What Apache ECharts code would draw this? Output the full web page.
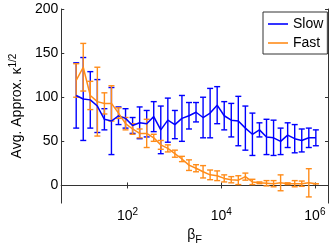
<!DOCTYPE html>
<html><head><meta charset="utf-8">
<script src="https://cdn.jsdelivr.net/npm/echarts@6/dist/echarts.min.js"></script>
<style>html,body{margin:0;padding:0;background:#fff}#c{width:332px;height:250px}</style>
</head><body><div id="c"></div>
<script>
const betaF = [8, 11.31, 16, 22.63, 32, 45.25, 64, 90.51, 128, 181.02, 256, 362.04, 512, 724.08, 1024, 1448.15, 2048, 2896.31, 4096, 5792.62, 8192, 11585.24, 16384, 23170.48, 32768, 46340.95, 65536, 92681.9, 131072, 185363.8, 262144, 370727.6, 524288, 741455.2, 1048576];
const slowMean = [102, 98, 97, 90, 75, 73, 79, 76, 68, 71, 70, 78, 63, 74, 69, 76, 79, 83, 77, 82, 91, 79, 74, 73, 65, 58, 63, 55, 54, 50, 57, 53, 51, 54, 54];
const slowErr  = [37, 47, 32, 30, 12, 38, 10, 11, 9, 18, 15, 17, 27, 25, 16, 26, 15, 11, 23, 28, 21, 16, 19, 28, 25, 24, 8, 20, 20, 15, 14, 16, 13, 11, 9];
const fastMean = [119, 134, 102, 95, 93, 93, 82, 70, 64, 59, 59, 54, 46, 42, 36, 30, 23, 19.5, 15.5, 12, 11, 8, 6.5, 6, 10, 4, 3, 2.5, 2, 3, 2, 2, 2, 3, 2];
const fastErr  = [19, 27, 16, 39, 12, 20, 6, 7, 6, 5, 16, 4, 5, 4, 4, 3, 6, 4, 7, 5.5, 5.5, 4, 3.5, 5, 4, 3, 1, 3, 3.5, 9, 1, 3.5, 3, 16, 0];
const xTicks = [100, 10000, 1000000];
const yTicks = [0, 50, 100, 150, 200];
const seriesNames = ['Slow', 'Fast'];

const FONT = '"Liberation Sans", Arial, Helvetica, sans-serif';
const BLUE = '#0000ff', ORANGE = '#ff8c1a', AX = '#333333';

function errData(means, errs) { return betaF.map((x, i) => [x, means[i], errs[i]]); }
function lineData(means) { return betaF.map((x, i) => [x, means[i]]); }
function errRender(color) {
  return function (params, api) {
    const x = api.value(0), m = api.value(1), e = api.value(2);
    const t = api.coord([x, m + e]), b = api.coord([x, m - e]);
    const w = 3;
    const st = { stroke: color, lineWidth: 1.4 };
    return { type: 'group', children: [
      { type: 'line', shape: { x1: t[0], y1: t[1], x2: b[0], y2: b[1] }, style: st },
      { type: 'line', shape: { x1: t[0] - w, y1: t[1], x2: t[0] + w, y2: t[1] }, style: st },
      { type: 'line', shape: { x1: b[0] - w, y1: b[1], x2: b[0] + w, y2: b[1] }, style: st }
    ]};
  };
}
const xmin = Math.pow(10, 0.584), xmax = Math.pow(10, 6.28);
const supFmt = v => '{b|10}{s|' + Math.round(Math.log10(v)) + '}';

const chart = echarts.init(document.getElementById('c'), null, { renderer: 'canvas' });
chart.setOption({
  animation: false,
  backgroundColor: '#fff',
  textStyle: { fontFamily: FONT },
  grid: { left: 54, right: 4, top: 9, bottom: 41 },
  legend: {
    data: seriesNames, orient: 'vertical', left: 263, top: 12,
    icon: 'rect', itemWidth: 20, itemHeight: 1.6, itemGap: 5, padding: [5, 4, 4, 5],
    backgroundColor: '#fff', borderColor: AX, borderWidth: 1,
    textStyle: { fontSize: 14, color: '#000', fontFamily: FONT, lineHeight: 14 }
  },
  xAxis: [{
    type: 'log', logBase: 10, min: xmin, max: xmax, position: 'bottom',
    name: '{a|β}{s|F}', nameLocation: 'middle', nameGap: 19,
    nameTextStyle: { color: '#000', rich: { a: { fontSize: 14, fontFamily: FONT, color: '#000' }, s: { fontSize: 11, fontFamily: FONT, color: '#000', padding: [9, 0, 0, 0] } } },
    axisLine: { show: true, lineStyle: { color: AX, width: 1 } },
    axisTick: { show: true, inside: true, length: 3, customValues: xTicks, lineStyle: { color: AX } },
    axisLabel: { show: true, customValues: xTicks, margin: 4, formatter: supFmt,
      rich: { b: { fontSize: 14, fontFamily: FONT, color: '#000' }, s: { fontSize: 10, fontFamily: FONT, color: '#000', padding: [0, 0, 8, 0] } } },
    splitLine: { show: false }, minorTick: { show: false }
  }, {
    type: 'log', logBase: 10, min: xmin, max: xmax, position: 'top',
    axisLine: { show: true, lineStyle: { color: AX, width: 1 } },
    axisTick: { show: true, inside: true, length: 3, customValues: xTicks, lineStyle: { color: AX } },
    axisLabel: { show: false }, splitLine: { show: false }
  }],
  yAxis: [{
    type: 'value', min: -20, max: 200, position: 'left',
    name: '{a|Avg. Approx. κ}{s|1/2}', nameLocation: 'middle', nameRotate: 90, nameGap: 34,
    nameTextStyle: { color: '#000', rich: { a: { fontSize: 14, fontFamily: FONT, color: '#000' }, s: { fontSize: 10, fontFamily: FONT, color: '#000', padding: [0, 0, 8, 0] } } },
    axisLine: { show: true, lineStyle: { color: AX, width: 1 } },
    axisTick: { show: true, inside: true, length: 3, customValues: yTicks, lineStyle: { color: AX } },
    axisLabel: { show: true, customValues: yTicks, margin: 3, fontSize: 14, color: '#000', fontFamily: FONT },
    splitLine: { show: false }
  }, {
    type: 'value', min: -20, max: 200, position: 'right',
    axisLine: { show: true, lineStyle: { color: AX, width: 1 } },
    axisTick: { show: true, inside: true, length: 3, customValues: yTicks, lineStyle: { color: AX } },
    axisLabel: { show: false }, splitLine: { show: false }
  }],
  series: [
    { name: 'SlowErr', type: 'custom', renderItem: errRender(BLUE), data: errData(slowMean, slowErr), encode: { x: 0, y: 1 }, clip: false },
    { name: 'Slow', type: 'line', data: lineData(slowMean), symbol: 'none', lineStyle: { color: BLUE, width: 1.5 }, itemStyle: { color: BLUE } },
    { name: 'FastErr', type: 'custom', renderItem: errRender(ORANGE), data: errData(fastMean, fastErr), encode: { x: 0, y: 1 }, clip: false },
    { name: 'Fast', type: 'line', data: lineData(fastMean), symbol: 'none', lineStyle: { color: ORANGE, width: 1.5 }, itemStyle: { color: ORANGE } }
  ]
});
</script></body></html>
